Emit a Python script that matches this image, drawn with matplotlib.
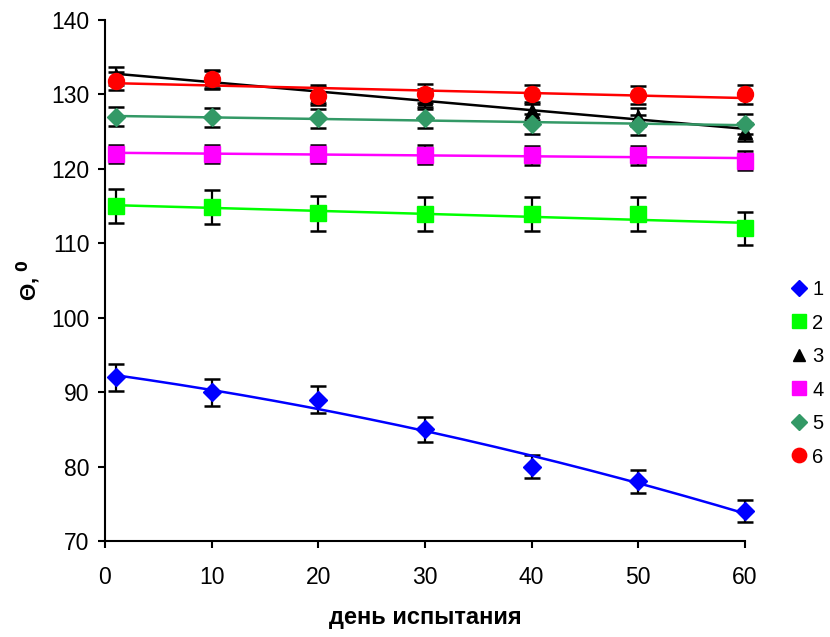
import numpy as np
import matplotlib
matplotlib.use("Agg")
import matplotlib.pyplot as plt
from matplotlib.lines import Line2D

plt.rcParams['font.family'] = ['Liberation Sans', 'DejaVu Sans']

days = [1, 10, 20, 30, 40, 50, 60]

s1 = [92, 90, 89, 85, 80, 78, 74]
e1 = [1.8, 1.8, 1.8, 1.7, 1.6, 1.6, 1.5]
s2 = [115, 114.9, 114, 113.9, 113.9, 113.9, 112]
e2 = [2.3, 2.3, 2.3, 2.3, 2.3, 2.3, 2.2]
s3 = [132.5, 132, 130, 129.5, 127.8, 127, 125]
e3 = [1.2, 1.2, 1.2, 1.2, 1.2, 1.2, 1.2]
s4 = [122, 122, 122, 121.9, 121.8, 121.8, 121.1]
e4 = [1.25, 1.25, 1.25, 1.25, 1.25, 1.25, 1.25]
s5 = [127, 126.9, 126.8, 126.8, 126, 125.9, 126]
e5 = [1.3, 1.3, 1.3, 1.3, 1.3, 1.3, 1.3]
s6 = [131.8, 132, 129.8, 130.1, 130, 129.9, 130]
e6 = [1.25, 1.25, 1.25, 1.25, 1.25, 1.25, 1.25]

labels = ['1', '2', '3', '4', '5', '6']
series = [s1, s2, s3, s4, s5, s6]
errors = [e1, e2, e3, e4, e5, e6]
colors = ['#0000FF', '#00FF00', '#000000', '#FF00FF', '#339966', '#FF0000']
markers = ['D', 's', '^', 's', 'D', 'o']
msizes = [9.5, 11, 9.5, 11, 9.5, 11.5]
fit_deg = [2, 1, 1, 1, 1, 1]

fig = plt.figure(figsize=(8.3, 6.37), dpi=100)
ax = fig.add_axes([0.1265, 0.1507, 0.771, 0.818])

x = np.array(days)
xx = np.linspace(1, 60, 200)
handles = []
for i in range(6):
    y = np.array(series[i])
    z = 2 + i * 3
    ax.errorbar(x, y, yerr=errors[i], fmt='none', ecolor='black',
                elinewidth=1.6, capsize=5.8, capthick=1.8, zorder=z,
                clip_on=False)
    ax.plot(x, y, linestyle='none', marker=markers[i], color=colors[i],
            markersize=msizes[i], zorder=z + 1, clip_on=False)
    p = np.polyfit(x, y, fit_deg[i])
    ax.plot(xx, np.polyval(p, xx), color=colors[i], lw=1.8, zorder=z + 2)
    handles.append(Line2D([], [], linestyle='none', marker=markers[i],
                          color=colors[i], markersize=msizes[i] * 0.9))

ax.set_xlim(0, 60)
ax.set_ylim(70, 140)
ax.set_xticks(range(0, 61, 10))
ax.set_yticks(range(70, 141, 10))
ax.spines['top'].set_visible(False)
ax.spines['right'].set_visible(False)
ax.spines['left'].set_linewidth(1.5)
ax.spines['bottom'].set_linewidth(1.5)
ax.tick_params(direction='out', length=5, width=1.5, labelsize=16.5)
ax.tick_params(axis='y', pad=6)
ax.tick_params(axis='x', pad=13)

ax.set_xlabel('день испытания', fontsize=17, fontweight='bold', labelpad=12)
ax.set_ylabel('Θ, $\\mathbf{^0}$', fontsize=16, fontweight='bold', labelpad=6)

fig.legend(handles, labels, loc='center left', bbox_to_anchor=(0.929, 0.414),
           frameon=False, fontsize=14.5, handlelength=1.0, handletextpad=0.15,
           labelspacing=0.72)

fig.savefig('out.png', dpi=100)
